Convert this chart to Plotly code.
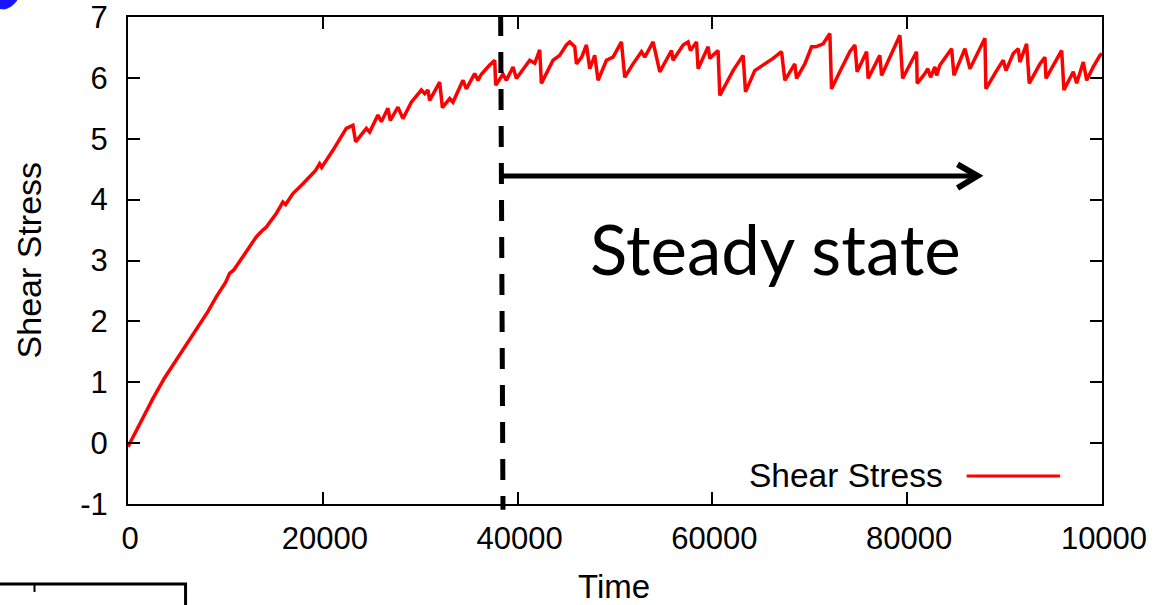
import plotly.graph_objects as go

# Shear stress time series (simulation output)
time = [0, 1280, 2550, 3750, 4950, 6010, 7010, 8200, 9090, 10020, 10430, 10840,
        11790, 13170, 13710, 14200, 15220, 15900, 16180, 16930, 17960, 18820,
        19260, 19670, 19880, 21040, 21730, 22410, 23090, 23370, 24470, 24810,
        25660, 26010, 26690, 26930, 27710, 28230, 29090, 30120, 30460, 30800,
        30970, 32000, 32280, 33030, 33360, 34390, 34740, 35590, 35930, 36280,
        37130, 37650, 37750, 38500, 38850, 39530, 39880, 40900, 41240, 41760,
        42270, 42440, 43640, 44320, 45010, 45350, 45870, 46040, 46580, 47070,
        47410, 47920, 48260, 49120, 49800, 50660, 51000, 51850, 52720, 53060,
        53910, 54600, 55800, 55960, 56990, 57500, 57750, 58370, 58530, 59560,
        59730, 60580, 60760, 62120, 63150, 63400, 64350, 65380, 66230, 67100,
        67440, 68460, 68640, 69490, 70180, 70620, 71370, 72060, 72230, 73080,
        74110, 74630, 74860, 75830, 75990, 77190, 77370, 79250, 79530, 80960,
        81030, 81820, 82120, 82400, 82840, 83020, 83360, 84560, 84800, 85930,
        86440, 87980, 88080, 89180, 89860, 90140, 90890, 91400, 91570, 92260,
        92530, 93630, 94140, 94250, 95340, 95860, 96090, 97050, 97400, 98080,
        98430, 99100, 99790, 100000]
shear_stress = [-0.06, 0.34, 0.73, 1.07, 1.36, 1.61, 1.86, 2.16, 2.41, 2.64, 2.79, 2.84,
                3.06, 3.39, 3.48, 3.55, 3.77, 3.96, 3.92, 4.10, 4.26, 4.40,
                4.48, 4.59, 4.53, 4.81, 4.98, 5.17, 5.22, 4.95, 5.17, 5.11,
                5.39, 5.28, 5.50, 5.30, 5.52, 5.33, 5.60, 5.80, 5.74, 5.80,
                5.63, 5.93, 5.51, 5.66, 5.60, 5.96, 5.82, 6.07, 5.96, 6.06,
                6.21, 6.29, 5.88, 6.06, 5.96, 6.18, 5.99, 6.21, 6.29, 6.24,
                6.46, 5.91, 6.29, 6.37, 6.54, 6.59, 6.51, 6.23, 6.34, 6.54,
                6.15, 6.37, 5.96, 6.29, 6.34, 6.59, 6.01, 6.23, 6.43, 6.34,
                6.59, 6.10, 6.45, 6.29, 6.54, 6.59, 6.45, 6.59, 6.15, 6.51,
                6.32, 6.45, 5.71, 6.12, 6.37, 5.77, 6.12, 6.23, 6.32, 6.43,
                5.96, 6.23, 5.99, 6.23, 6.51, 6.51, 6.56, 6.73, 5.82, 6.10,
                6.43, 6.54, 6.10, 6.43, 5.99, 6.37, 6.04, 6.70, 5.99, 6.43,
                5.91, 6.07, 6.15, 6.01, 6.18, 6.04, 6.21, 6.48, 6.04, 6.48,
                6.15, 6.65, 5.82, 6.12, 6.29, 6.12, 6.40, 6.48, 6.26, 6.56,
                5.91, 6.23, 6.34, 5.99, 6.29, 6.45, 5.80, 6.10, 5.91, 6.26,
                5.96, 6.18, 6.37, 6.40]

x_ticks = [0, 20000, 40000, 60000, 80000, 100000]
x_tick_labels = ["0", "20000", "40000", "60000", "80000", "10000"]
y_ticks = [-1, 0, 1, 2, 3, 4, 5, 6, 7]
y_tick_labels = ["-1", "0", "1", "2", "3", "4", "5", "6", "7"]

# Onset of the steady-state regime and the extent of the arrow
steady_start = 38260
steady_start_bottom = 38500
arrow_end = 87220
arrow_level = 4.39

FONT = "Liberation Sans, Arial, Helvetica, sans-serif"

fig = go.Figure()
fig.add_trace(go.Scatter(
    x=time, y=shear_stress, mode="lines", name="Shear Stress",
    line=dict(color="#ff0000", width=3.5), showlegend=False,
))

axis_common = dict(
    showgrid=False, zeroline=False, showline=True, linecolor="black",
    linewidth=2, mirror="ticks", ticks="inside", ticklen=12, tickwidth=2,
    tickcolor="black", tickfont=dict(family=FONT, size=31, color="black"),
    ticklabeloverflow="allow",
)
fig.update_xaxes(range=[0, 100000], tickvals=x_ticks, ticktext=x_tick_labels,
                 ticklabelstandoff=6, ticklabelshift=2, **axis_common)
fig.update_yaxes(range=[-1, 7], tickvals=y_ticks, ticktext=y_tick_labels,
                 ticklabelstandoff=12, **axis_common)

shapes = [
    # dashed boundary of the steady state
    dict(type="line", xref="x", yref="paper", x0=steady_start, y0=1.004,
         x1=steady_start_bottom, y1=-0.012,
         line=dict(color="black", width=5, dash="21px,16px")),
    # arrow shaft
    dict(type="line", xref="x", yref="y", x0=steady_start, y0=arrow_level,
         x1=arrow_end - 300, y1=arrow_level, line=dict(color="black", width=5)),
    # arrow head
    dict(type="path", xref="x", yref="y",
         path=f"M {arrow_end - 2050},{arrow_level + 0.19} L {arrow_end},{arrow_level} "
              f"L {arrow_end - 2050},{arrow_level - 0.20}",
         line=dict(color="black", width=6)),
    # legend sample line
    dict(type="line", xref="paper", yref="paper", x0=0.861, x1=0.957,
         y0=0.0575, y1=0.0575, line=dict(color="#ff0000", width=3)),
    # neighbouring panel frame fragment
    dict(type="path", xref="paper", yref="paper",
         path="M -0.135,-0.1643 L 0.0591,-0.1643 L 0.0591,-0.215",
         line=dict(color="black", width=3)),
    dict(type="line", xref="paper", yref="paper", x0=-0.0960, x1=-0.0960,
         y0=-0.1643, y1=-0.1807, line=dict(color="black", width=2)),
    # blue mark in the corner
    dict(type="path", xref="paper", yref="paper",
         path="M -0.135,1.04 L -0.1125,1.04 Q -0.1176,1.0205 -0.1269,1.0164 L -0.135,1.0185 Z",
         fillcolor="#1515ff", line=dict(color="#1515ff", width=1)),
]

annotations = [
    dict(text="Steady state", xref="paper", yref="paper",
         x=(776 - 128.5) / 974, y=(504 - 249) / 487, xanchor="center",
         yanchor="middle", showarrow=False,
         font=dict(family="Lato, Open Sans, sans-serif", size=69, color="black")),
    dict(text="Shear Stress", xref="paper", yref="paper", x=0.8387, y=0.0575,
         xanchor="right", yanchor="middle", showarrow=False,
         font=dict(family=FONT, size=33.5, color="black")),
    dict(text="Shear Stress", xref="paper", yref="paper", x=-0.1012, y=0.501,
         xanchor="center", yanchor="middle", textangle=-90, showarrow=False,
         font=dict(family=FONT, size=34, color="black")),
    dict(text="Time", xref="paper", yref="paper", x=(614 - 128.5) / 974,
         y=(504 - 586) / 487, xanchor="center", yanchor="middle", showarrow=False,
         font=dict(family=FONT, size=33, color="black")),
]

fig.update_layout(
    width=1161, height=605,
    margin=dict(l=128, r=59, t=17, b=101, autoexpand=False),
    paper_bgcolor="white", plot_bgcolor="white",
    shapes=shapes, annotations=annotations, showlegend=False,
)

fig.write_html("out.html")
